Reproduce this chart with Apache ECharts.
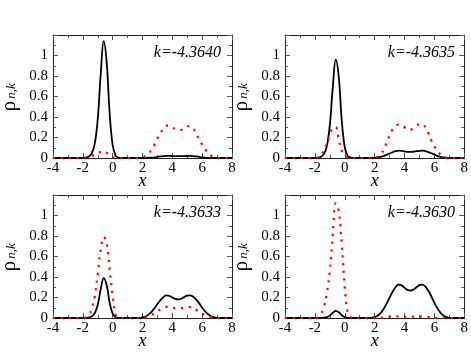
<!DOCTYPE html>
<html>
<head>
<meta charset="utf-8">
<script src="https://cdn.jsdelivr.net/npm/echarts@6/dist/echarts.min.js"></script>
<style>
html,body{margin:0;padding:0;background:#fff}
#tubiao{width:471px;height:364px}
</style>
</head>
<body>
<div id="tubiao"></div>
<script>
// x grid shared by all curves, -4 .. 8 step 0.2
var xs = [
  -4.0,-3.8,-3.6,-3.4,-3.2,-3.0,-2.8,-2.6,-2.4,-2.2,
  -2.0,-1.8,-1.6,-1.4,-1.2,-1.0,-0.8,-0.6,-0.4,-0.2,
  0.0,0.2,0.4,0.6,0.8,1.0,1.2,1.4,1.6,1.8,
  2.0,2.2,2.4,2.6,2.8,3.0,3.2,3.4,3.6,3.8,
  4.0,4.2,4.4,4.6,4.8,5.0,5.2,5.4,5.6,5.8,
  6.0,6.2,6.4,6.6,6.8,7.0,7.2,7.4,7.6,7.8,
  8.0
];

// black solid curves
var black1 = [
  0,0,0,0,0,0,0,0,0,0,
  0,0.003,0.014,0.046,0.14,0.38,0.82,1.14,0.93,0.43,
  0.125,0.023,0.003,0,0,0,0,0,0,0,
  0,0.001,0.002,0.004,0.007,0.011,0.015,0.018,0.02,0.02,
  0.019,0.018,0.018,0.018,0.019,0.02,0.02,0.018,0.015,0.011,
  0.007,0.004,0.002,0.001,0,0,0,0,0,0,
  0
];
var black2 = [
  0,0,0,0,0,0,0,0,0,0,
  0,0.003,0.012,0.038,0.115,0.32,0.69,0.96,0.79,0.365,
  0.105,0.02,0.003,0,0,0,0,0,0,0,
  0.002,0.005,0.011,0.019,0.031,0.044,0.056,0.066,0.072,0.07,
  0.065,0.06,0.059,0.061,0.066,0.07,0.072,0.067,0.058,0.046,
  0.033,0.021,0.012,0.006,0.002,0,0,0,0,0,
  0
];
var black3 = [
  0,0,0,0,0,0,0,0,0,0,
  0,0.001,0.005,0.016,0.047,0.13,0.28,0.39,0.32,0.148,
  0.043,0.008,0.001,0,0,0,0,0,0,0.001,
  0.005,0.015,0.033,0.06,0.095,0.135,0.173,0.204,0.221,0.216,
  0.2,0.187,0.182,0.189,0.204,0.218,0.221,0.207,0.18,0.143,
  0.1,0.065,0.036,0.017,0.006,0.001,0,0,0,0,
  0
];
var black4 = [
  0,0,0,0,0,0,0,0,0,0,
  0,0,0.001,0.003,0.008,0.023,0.05,0.07,0.057,0.027,
  0.008,0.002,0,0,0,0,0,0,0,0.002,
  0.008,0.022,0.048,0.088,0.14,0.198,0.255,0.30,0.325,0.318,
  0.295,0.275,0.268,0.278,0.30,0.32,0.325,0.305,0.265,0.21,
  0.148,0.095,0.053,0.025,0.009,0.002,0,0,0,0,
  0
];

// red dotted curves
var red1 = [
  0,0,0,0,0,0,0,0,0,0,
  0,0.003,0.01,0.02,0.033,0.047,0.06,0.065,0.05,0.028,
  0.01,0.002,0,0,0,0,0,0,0,0,
  0.005,0.02,0.045,0.078,0.128,0.19,0.245,0.285,0.315,0.315,
  0.298,0.283,0.273,0.275,0.295,0.31,0.31,0.29,0.235,0.18,
  0.13,0.085,0.048,0.022,0.008,0.002,0,0,0,0,
  0
];
var red2 = [
  0,0,0,0,0,0,0,0,0,0,
  0,0.003,0.025,0.075,0.145,0.23,0.295,0.30,0.18,0.07,
  0.02,0.003,0,0,0,0,0,0,0,0,
  0.002,0.01,0.03,0.08,0.15,0.22,0.28,0.315,0.325,0.32,
  0.30,0.28,0.275,0.295,0.315,0.33,0.33,0.30,0.24,0.17,
  0.115,0.07,0.035,0.015,0.004,0,0,0,0,0,
  0
];
var red3 = [
  0,0,0,0,0,0,0,0,0,0,
  0,0.006,0.03,0.09,0.21,0.43,0.67,0.79,0.73,0.47,
  0.22,0.03,0.003,0,0,0,0,0,0,0,
  0.002,0.006,0.015,0.03,0.048,0.066,0.085,0.1,0.108,0.108,
  0.103,0.097,0.094,0.097,0.104,0.108,0.106,0.097,0.08,0.06,
  0.042,0.027,0.015,0.007,0.002,0,0,0,0,0,
  0
];
var red4 = [
  0,0,0,0,0,0,0,0,0,0,
  0,0.005,0.035,0.105,0.24,0.46,0.82,1.12,1.04,0.72,
  0.30,0.05,0.005,0,0,0,0,0,0,0,
  0,0,0.002,0.005,0.008,0.011,0.013,0.015,0.015,0.014,
  0.013,0.012,0.012,0.013,0.014,0.015,0.014,0.012,0.009,0.006,
  0.003,0.001,0,0,0,0,0,0,0,0,
  0
];

var kLabels = ['k=-4.3640', 'k=-4.3635', 'k=-4.3633', 'k=-4.3630'];
var xTickLabels = ['-4', '-2', '0', '2', '4', '6', '8'];
var yTickLabels = ['0', '0.2', '0.4', '0.6', '0.8', '1', ''];

var blacks = [black1, black2, black3, black4];
var reds = [red1, red2, red3, red4];

var myChart = echarts.init(document.getElementById('tubiao'));
var serif = "'Liberation Serif','Times New Roman',serif";
// left, top, width, height of each plot box
var boxes = [[53, 35, 179, 123], [285, 35, 181, 123], [53, 195, 179, 123], [285, 195, 181, 123]];

var grid = [], xAxis = [], yAxis = [], series = [], graphic = [];

function pairs(vals) {
  return xs.map(function (x, j) { return [x, vals[j]]; });
}

boxes.forEach(function (b, i) {
  grid.push({left: b[0], top: b[1], width: b[2], height: b[3]});
  var line = {show: true, onZero: false, lineStyle: {color: '#222', width: 1}};
  var tick = {show: true, inside: true, length: 5, lineStyle: {color: '#555'}};
  var minor = {show: true, splitNumber: 2, length: 3, lineStyle: {color: '#555'}};
  xAxis.push({
    gridIndex: i, type: 'value', min: -4, max: 8, interval: 2, position: 'bottom',
    axisLine: line, axisTick: tick, minorTick: minor, splitLine: {show: false},
    axisLabel: {margin: 3, color: '#000', fontFamily: serif, fontSize: 15,
      formatter: function (v) { return xTickLabels[Math.round((v + 4) / 2)]; }},
    name: 'x', nameLocation: 'middle', nameGap: 14, nameMoveOverlap: false,
    nameTextStyle: {fontFamily: serif, fontStyle: 'italic', fontSize: 18, color: '#000'}
  });
  xAxis.push({
    gridIndex: i, type: 'value', min: -4, max: 8, interval: 2, position: 'top',
    axisLine: line, axisTick: tick, minorTick: minor, splitLine: {show: false},
    axisLabel: {show: false}
  });
  yAxis.push({
    gridIndex: i, type: 'value', min: 0, max: 1.2, interval: 0.2, position: 'left',
    axisLine: line, axisTick: tick, minorTick: minor, splitLine: {show: false},
    axisLabel: {margin: 5, color: '#000', fontFamily: serif, fontSize: 15,
      formatter: function (v) { return yTickLabels[Math.round(v * 5)]; }}
  });
  yAxis.push({
    gridIndex: i, type: 'value', min: 0, max: 1.2, interval: 0.2, position: 'right',
    axisLine: line, axisTick: tick, minorTick: minor, splitLine: {show: false},
    axisLabel: {show: false}
  });
  series.push({
    type: 'line', xAxisIndex: 2 * i, yAxisIndex: 2 * i, data: pairs(blacks[i]),
    smooth: 0.4, symbol: 'none', clip: false, z: 3,
    lineStyle: {color: '#000', width: 1.8}
  });
  series.push({
    type: 'line', xAxisIndex: 2 * i, yAxisIndex: 2 * i, data: pairs(reds[i]),
    smooth: 0.4, symbol: 'none', clip: false, z: 4,
    lineStyle: {color: '#ff0000', width: 2.2, type: [2.2, 5.6], cap: 'butt'}
  });
  // panel label
  graphic.push({
    type: 'text', right: 471 - (b[0] + b[2]) + 11, top: b[1] + 10,
    style: {text: kLabels[i], fontFamily: serif, fontStyle: 'italic', fontSize: 16, fill: '#000'}
  });
  // y axis title rho_{n,k}
  graphic.push({
    type: 'text', x: b[0] - 44, y: b[1] + 71, rotation: Math.PI / 2,
    style: {text: 'ρ', fontFamily: serif, fontSize: 21, fill: '#000', align: 'center', verticalAlign: 'middle'}
  });
  graphic.push({
    type: 'text', x: b[0] - 41, y: b[1] + 56, rotation: Math.PI / 2,
    style: {text: 'n,k', fontFamily: serif, fontStyle: 'italic', fontSize: 13, fill: '#000', align: 'center', verticalAlign: 'middle'}
  });
});

myChart.setOption({
  animation: false,
  grid: grid,
  xAxis: xAxis,
  yAxis: yAxis,
  series: series,
  graphic: graphic
});
</script>
</body>
</html>
